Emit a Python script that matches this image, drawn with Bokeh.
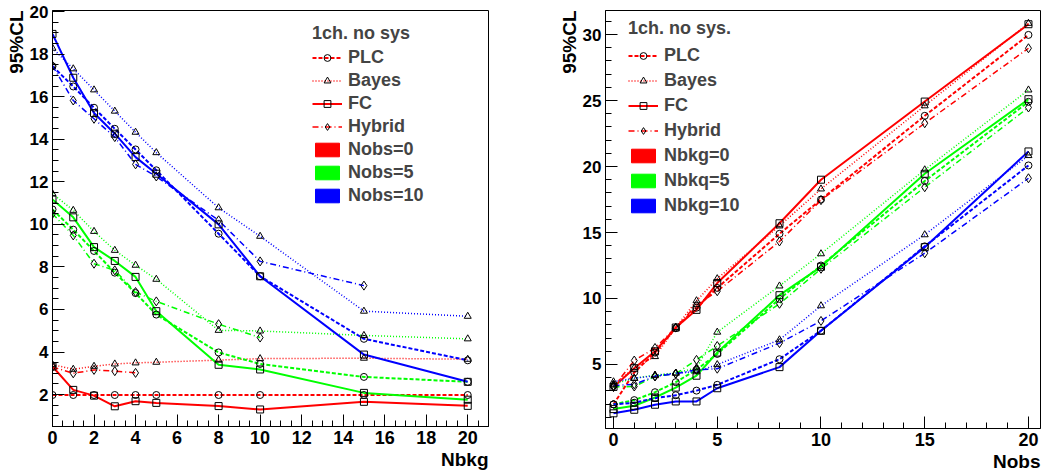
import math
from bokeh.plotting import figure
from bokeh.models import Legend, LegendItem, Title, Range1d, SingleIntervalTicker
from bokeh.layouts import row
from bokeh.embed import file_html
from bokeh.resources import INLINE

FONT = "Liberation Sans"
NAN = float("nan")

# ---------------- data: left panel (x = Nbkg) ----------------
nbkg = [0, 1, 2, 3, 4, 5, 8, 10, 15, 20]

L_plc_nobs0 = [1.98, 1.98, 1.98, 1.98, 1.98, 1.98, 1.98, 1.98, 1.98, 1.98]
L_bay_nobs0 = [3.41, 3.19, 3.33, 3.44, 3.49, 3.52, 3.62, 3.69, 3.71, 3.66]
L_fc_nobs0 = [3.32, 2.22, 1.95, 1.45, 1.69, 1.61, 1.46, 1.30, 1.66, 1.47]
L_hyb_nobs0 = [3.30, 3.00, 3.16, 3.10, 3.02]

L_plc_nobs5 = [10.70, 9.75, 8.75, 7.73, 6.77, 5.76, 3.98, 3.44, 2.83, 2.60]
L_bay_nobs5 = [11.44, 10.66, 9.67, 8.78, 8.08, 7.42, 5.02, 4.99, 4.78, 4.62]
L_fc_nobs5 = [11.17, 10.33, 8.93, 8.28, 7.53, 5.92, 3.40, 3.18, 2.08, 1.76]
L_hyb_nobs5 = [10.50, 9.48, 8.15, 7.84, 6.82, 6.38, 5.31, 4.68]

L_plc_nobs10 = [17.43, 16.48, 15.48, 14.49, 13.52, 12.54, 9.56, 7.56, 4.62, 3.61]
L_bay_nobs10 = [18.28, 17.31, 16.32, 15.32, 14.33, 13.37, 10.78, 9.44, 5.92, 5.68]
L_fc_nobs10 = [18.95, 16.89, 15.23, 14.26, 13.16, 12.38, 10.00, 7.56, 3.88, 2.60]
L_hyb_nobs10 = [17.45, 15.82, 14.96, 14.10, 12.82, 12.25, 10.19, 8.26, 7.12]

# ---------------- data: right panel (x = Nobs) ----------------
nobs = [0, 1, 2, 3, 4, 5, 8, 10, 15, 20]

R_plc_nbkg0 = [1.98, 4.40, 5.90, 7.75, 9.30, 10.80, 14.90, 17.50, 23.84, 29.97]
R_bay_nbkg0 = [3.45, 4.75, 5.60, 7.80, 9.83, 11.50, 15.50, 18.30, 24.60, 30.85]
R_fc_nbkg0 = [3.30, 4.72, 6.00, 7.80, 9.14, 11.17, 15.70, 19.00, 24.92, 30.78]
R_hyb_nbkg0 = [3.30, 5.30, 6.25, 7.80, 9.50, 10.55, 14.32, 17.45, 23.28, 28.96]

R_plc_nbkg5 = [1.98, 2.30, 2.90, 3.66, 4.60, 5.80, 9.97, 12.50, 18.90, 24.90]
R_bay_nbkg5 = [3.52, 3.95, 4.20, 4.35, 4.75, 7.45, 10.95, 13.39, 19.75, 25.80]
R_fc_nbkg5 = [1.62, 1.87, 2.50, 3.25, 4.15, 5.90, 10.25, 12.40, 19.45, 25.10]
R_hyb_nbkg5 = [3.30, 3.33, 4.10, 4.30, 5.35, 6.40, 9.60, 12.25, 18.43, 24.47]

R_plc_nbkg10 = [1.98, 2.10, 2.45, 2.67, 3.02, 3.46, 5.40, 7.56, 13.95, 20.08]
R_bay_nbkg10 = [3.69, 3.96, 4.15, 4.35, 4.45, 4.99, 6.87, 9.45, 14.83, 20.83]
R_fc_nbkg10 = [1.30, 1.57, 1.95, 2.20, 2.20, 3.20, 4.80, 7.55, 13.89, 21.14]
R_hyb_nbkg10 = [3.40, 3.50, 4.10, 4.30, 4.60, 4.68, 6.62, 8.30, 13.43, 19.11]

method_names = ["PLC", "Bayes", "FC", "Hybrid"]
left_labels = ["Nobs=0", "Nobs=5", "Nobs=10"]
right_labels = ["Nbkg=0", "Nbkq=5", "Nbkg=10"]
series_colors = ["#ff0000", "#00ff00", "#0000ff"]

STYLE = {
    "PLC": dict(dash="4 2", width=2.0, marker="circle", size=7),
    "Bayes": dict(dash="1 2", width=1.5, marker="triangle", size=7),
    "FC": dict(dash="solid", width=2.0, marker="square", size=7),
    "Hybrid": dict(dash="6 3 1 3", width=1.5, marker="diamond", size=9),
}

left_series = [
    [L_plc_nobs0, L_bay_nobs0, L_fc_nobs0, L_hyb_nobs0],
    [L_plc_nobs5, L_bay_nobs5, L_fc_nobs5, L_hyb_nobs5],
    [L_plc_nobs10, L_bay_nobs10, L_fc_nobs10, L_hyb_nobs10],
]
right_series = [
    [R_plc_nbkg0, R_bay_nbkg0, R_fc_nbkg0, R_hyb_nbkg0],
    [R_plc_nbkg5, R_bay_nbkg5, R_fc_nbkg5, R_hyb_nbkg5],
    [R_plc_nbkg10, R_bay_nbkg10, R_fc_nbkg10, R_hyb_nbkg10],
]


def make_fig(xr, yr, fw, fh, bl, br, bt, bb, xint, xminor, yint, yminor):
    p = figure(frame_width=fw, frame_height=fh,
               x_range=Range1d(*xr), y_range=Range1d(*yr),
               output_backend="svg", toolbar_location=None,
               min_border_left=bl, min_border_right=br,
               min_border_top=bt, min_border_bottom=bb)
    p.xgrid.visible = False
    p.ygrid.visible = False
    p.outline_line_color = "black"
    p.outline_line_width = 1
    p.background_fill_color = "white"
    p.border_fill_color = "white"
    p.xaxis[0].ticker = SingleIntervalTicker(interval=xint, num_minor_ticks=xminor)
    p.yaxis[0].ticker = SingleIntervalTicker(interval=yint, num_minor_ticks=yminor)
    for ax in (p.xaxis[0], p.yaxis[0]):
        ax.major_tick_in = 12
        ax.major_tick_out = 0
        ax.minor_tick_in = 6
        ax.minor_tick_out = 0
        ax.axis_line_color = "black"
        ax.major_tick_line_color = "black"
        ax.minor_tick_line_color = "black"
        ax.major_label_text_font = FONT
        ax.major_label_text_font_style = "bold"
        ax.major_label_text_color = "black"
    p.xaxis[0].major_label_text_font_size = "18px"
    p.yaxis[0].major_label_text_font_size = "17px"
    p.xaxis[0].major_label_standoff = 4
    p.yaxis[0].major_label_standoff = 4
    return p


def draw_series(p, xs, series):
    for color, group in zip(series_colors, series):
        for name, vals in zip(method_names, group):
            st = STYLE[name]
            p.line(xs[:len(vals)], vals, line_color=color, line_dash=st["dash"],
                   line_width=st["width"])
    for color, group in zip(series_colors, series):
        for name, vals in zip(method_names, group):
            st = STYLE[name]
            p.scatter(xs[:len(vals)], vals, marker=st["marker"], size=st["size"],
                      fill_color=None, line_color="black", line_width=1)


def add_legend(p, title, fill_labels, loc, spacing, title_standoff):
    # legend-only renderers: a single NaN point, so nothing shows in the plot area
    items = []
    for name in method_names:
        st = STYLE[name]
        lr = p.line(x=[NAN, NAN], y=[NAN, NAN], line_color="#ff0000",
                    line_dash=st["dash"], line_width=st["width"])
        mr = p.scatter(x=[NAN], y=[NAN], marker=st["marker"], size=st["size"] - 1,
                       fill_color=None, line_color="black")
        items.append(LegendItem(label=name, renderers=[lr, mr]))
    for lab, col in zip(fill_labels, series_colors):
        qr = p.quad(left=[NAN], right=[NAN], top=[NAN], bottom=[NAN],
                    fill_color=col, line_color=col)
        items.append(LegendItem(label=lab, renderers=[qr]))
    leg = Legend(items=items, location=loc, title=title,
                 border_line_color=None, background_fill_alpha=0,
                 label_text_font=FONT, label_text_font_style="bold",
                 label_text_font_size="18px",
                 title_text_font=FONT, title_text_font_style="bold",
                 title_text_font_size="18px", title_standoff=title_standoff,
                 glyph_width=30, glyph_height=17, label_standoff=6,
                 padding=5, spacing=spacing, margin=0)
    p.add_layout(leg)


def axis_title(p, text, side):
    p.add_layout(Title(text=text, align="right", text_font=FONT,
                       text_font_style="bold", text_font_size="19px",
                       text_color="black", standoff=0, offset=0), side)


# ---------------- left panel ----------------
p1 = make_fig((0, 21), (0.5, 20.05), 436, 416, 52, 42, 10, 46, 2, 4, 2, 4)
draw_series(p1, nbkg, left_series)
add_legend(p1, "1ch. no sys", left_labels, (260, 220), 2, 3)
axis_title(p1, "95%CL", "left")
axis_title(p1, "Nbkg", "below")

# ---------------- right panel ----------------
p2 = make_fig((-0.386, 20.58), (0.15, 31.82), 435, 418, 75, 3, 9, 45, 5, 5, 5, 5)
draw_series(p2, nobs, right_series)
add_legend(p2, "1ch. no sys.", right_labels, (23, 212), 4, 6)
axis_title(p2, "95%CL", "left")
axis_title(p2, "Nobs", "below")

layout = row(p1, p2)
open("out.html", "w").write(file_html(layout, INLINE))
